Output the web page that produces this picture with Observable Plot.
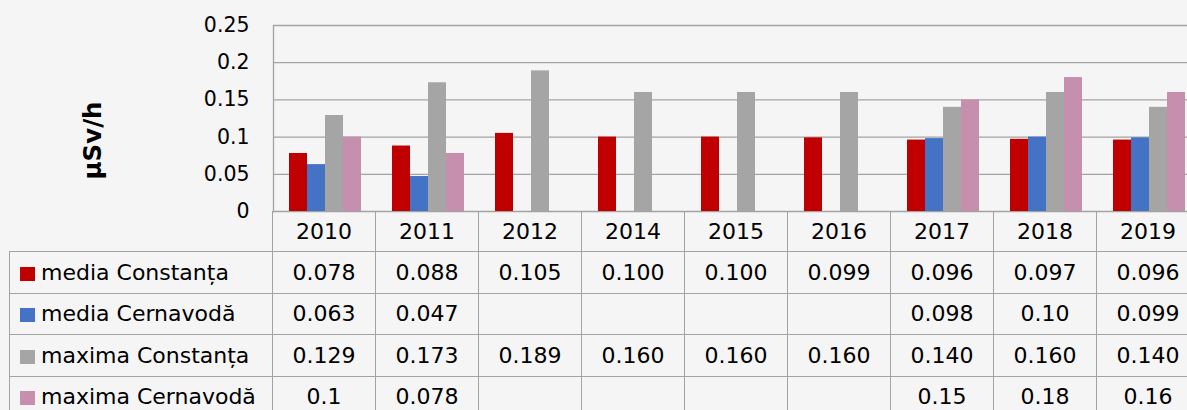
<!DOCTYPE html>
<html>
<head>
<meta charset="utf-8">
<script src="https://cdn.jsdelivr.net/npm/d3@7"></script>
<script src="https://cdn.jsdelivr.net/npm/@observablehq/plot@0.6"></script>
<style>
html, body { margin: 0; padding: 0; background: #f5f5f5; overflow: hidden; }
#wrap { position: relative; width: 1187px; height: 410px; overflow: hidden; font-family: "DejaVu Sans", sans-serif; color: #000; }
#chart { position: absolute; left: 0; top: 0; }
#tbl { position: absolute; left: 9px; top: 211px; border-collapse: collapse; table-layout: fixed; font-size: 22px; }
#tbl td { border: 1.3px solid #a3a3a3; text-align: center; padding: 0; white-space: nowrap; overflow: hidden; }
#tbl tr.head td { height: 39px; }
#tbl tr.body td { height: 40.5px; }
#tbl tr.head td.corner { border-top: none; border-left: none; }
#tbl td.leg { text-align: left; padding-left: 10px; }
#tbl .key { display: inline-block; width: 15px; height: 14px; margin-right: 6px; vertical-align: -1px; }
</style>
</head>
<body>
<div id="wrap"><div id="chart"></div><table id="tbl"></table></div>
<script>
const years = ["2010", "2011", "2012", "2014", "2015", "2016", "2017", "2018", "2019"];
const seriesNames = ["media Constanța", "media Cernavodă", "maxima Constanța", "maxima Cernavodă"];
const seriesColors = ["#c00000", "#4472c4", "#a5a5a5", "#c58fad"];
const mediaConstanta  = ["0.078", "0.088", "0.105", "0.100", "0.100", "0.099", "0.096", "0.097", "0.096"];
const mediaCernavoda  = ["0.063", "0.047", null, null, null, null, "0.098", "0.10", "0.099"];
const maximaConstanta = ["0.129", "0.173", "0.189", "0.160", "0.160", "0.160", "0.140", "0.160", "0.140"];
const maximaCernavoda = ["0.1", "0.078", null, null, null, null, "0.15", "0.18", "0.16"];
const yTicks = [0, 0.05, 0.1, 0.15, 0.2, 0.25];
const yTickLabels = ["0", "0.05", "0.1", "0.15", "0.2", "0.25"];
const yLabel = "μSv/h";

const seriesValues = [mediaConstanta, mediaCernavoda, maximaConstanta, maximaCernavoda];
const rows = [];
seriesValues.forEach((vals, s) => {
  vals.forEach((v, i) => {
    if (v !== null) rows.push({year: years[i], series: seriesNames[s], value: +v});
  });
});

const plot = Plot.plot({
  width: 1201,
  height: 213,
  marginLeft: 272,
  marginRight: 0,
  marginTop: 25,
  marginBottom: 2,
  style: {background: "transparent", fontFamily: "DejaVu Sans, sans-serif", color: "#000", maxWidth: "none", overflow: "visible"},
  fx: {domain: years, paddingInner: 0, paddingOuter: 0, axis: null},
  x: {domain: seriesNames, paddingInner: 0, paddingOuter: 0.755, axis: null},
  y: {domain: [0, 0.25]},
  color: {domain: seriesNames, range: seriesColors},
  marks: [
    Plot.gridY(yTicks, {stroke: "#a3a3a3", strokeOpacity: 1, strokeWidth: 1.3}),
    Plot.frame({anchor: "left", facetAnchor: "left", stroke: "#a3a3a3", strokeWidth: 1.3}),
    Plot.barY(rows, {fx: "year", x: "series", y: "value", fill: "series"}),
    Plot.axisY(yTicks, {tickSize: 0, tickPadding: 24, fontSize: 20.5, tickFormat: d => yTickLabels[yTicks.indexOf(d)], label: null}),
    Plot.text([yLabel], {facetAnchor: "left", frameAnchor: "left", textAnchor: "middle", rotate: -90, dx: -180, dy: 22, fontWeight: "bold", fontSize: 24.5, fill: "#000"})
  ]
});
document.getElementById("chart").appendChild(plot);

// data table aligned with the fx scale
const fx = plot.scale("fx");
const step = fx.step;
const legW = 272 - 9;
const tbl = document.getElementById("tbl");
tbl.style.width = (legW + step * years.length) + "px";
const cg = document.createElement("colgroup");
let colHtml = `<col style="width:${legW}px">`;
years.forEach(() => colHtml += `<col style="width:${step}px">`);
cg.innerHTML = colHtml;
tbl.appendChild(cg);
const head = document.createElement("tr");
head.className = "head";
head.innerHTML = `<td class="corner"></td>` + years.map(y => `<td>${y}</td>`).join("");
tbl.appendChild(head);
seriesNames.forEach((name, s) => {
  const tr = document.createElement("tr");
  tr.className = "body";
  tr.innerHTML = `<td class="leg"><span class="key" style="background:${seriesColors[s]}"></span>${name}</td>` +
    seriesValues[s].map(v => `<td>${v === null ? "" : v}</td>`).join("");
  tbl.appendChild(tr);
});
</script>
</body>
</html>
